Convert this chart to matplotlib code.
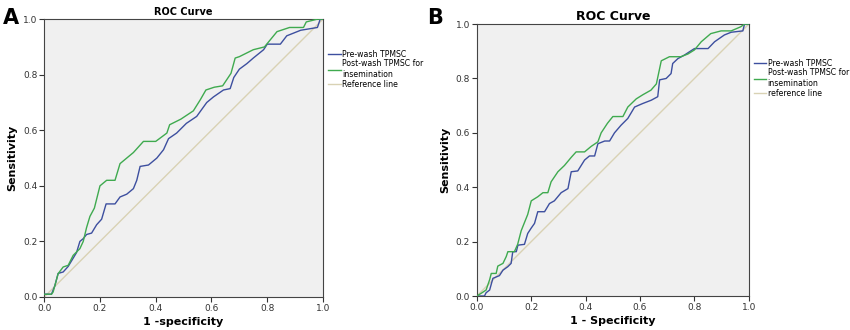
import numpy as np
import matplotlib
matplotlib.use('Agg')
from matplotlib import pyplot as plt

# Panel A curves (1 - specificity, sensitivity)
a_pre_x = [0, 0.026, 0.038, 0.05, 0.068, 0.086, 0.098, 0.116, 0.128, 0.14, 0.152, 0.17, 0.188,
           0.206, 0.222, 0.254, 0.272, 0.296, 0.32, 0.332, 0.344, 0.374, 0.404, 0.428, 0.446,
           0.475, 0.51, 0.547, 0.583, 0.607, 0.643, 0.667, 0.68, 0.70, 0.727, 0.75, 0.787,
           0.80, 0.847, 0.87, 0.92, 0.98, 0.99, 1.0]
a_pre_y = [0.01, 0.01, 0.04, 0.085, 0.09, 0.11, 0.13, 0.16, 0.2, 0.21, 0.225, 0.23, 0.26,
           0.28, 0.335, 0.335, 0.36, 0.37, 0.39, 0.42, 0.47, 0.475, 0.5, 0.53, 0.57,
           0.59, 0.625, 0.65, 0.70, 0.72, 0.745, 0.75, 0.79, 0.82, 0.84, 0.86, 0.89,
           0.91, 0.91, 0.94, 0.96, 0.97, 1.0, 1.0]
a_post_x = [0, 0.026, 0.032, 0.05, 0.068, 0.086, 0.104, 0.128, 0.14, 0.152, 0.164, 0.18, 0.2,
            0.224, 0.254, 0.272, 0.32, 0.356, 0.40, 0.44, 0.45, 0.49, 0.535, 0.56, 0.58,
            0.61, 0.64, 0.67, 0.685, 0.70, 0.75, 0.79, 0.835, 0.88, 0.93, 0.94, 0.98, 1.0]
a_post_y = [0.01, 0.01, 0.018, 0.084, 0.108, 0.114, 0.15, 0.174, 0.2, 0.25, 0.29, 0.32, 0.40,
            0.42, 0.42, 0.48, 0.52, 0.56, 0.56, 0.59, 0.62, 0.64, 0.67, 0.71, 0.745,
            0.755, 0.76, 0.805, 0.86, 0.865, 0.89, 0.90, 0.955, 0.97, 0.97, 0.99, 1.0, 1.0]

# Panel B curves
b_pre_x = [0, 0.028, 0.034, 0.047, 0.059, 0.083, 0.096, 0.114, 0.126, 0.132, 0.145, 0.151,
           0.175, 0.187, 0.2, 0.212, 0.224, 0.249, 0.267, 0.285, 0.31, 0.335, 0.347, 0.371,
           0.396, 0.414, 0.433, 0.445, 0.47, 0.488, 0.506, 0.53, 0.555, 0.58, 0.61, 0.641,
           0.665, 0.672, 0.696, 0.714, 0.72, 0.739, 0.763, 0.80, 0.85, 0.874, 0.91, 0.935,
           0.978, 0.984, 1.0]
b_pre_y = [0, 0, 0.012, 0.022, 0.065, 0.075, 0.095, 0.108, 0.12, 0.163, 0.163, 0.187,
           0.19, 0.23, 0.25, 0.267, 0.31, 0.31, 0.34, 0.35, 0.38, 0.395, 0.457, 0.46,
           0.5, 0.515, 0.515, 0.56, 0.57, 0.57, 0.6, 0.628, 0.653, 0.695, 0.708, 0.72,
           0.733, 0.795, 0.8, 0.818, 0.855, 0.873, 0.886, 0.91, 0.91, 0.935, 0.96, 0.97,
           0.975, 1.0, 1.0]
b_post_x = [0, 0.016, 0.034, 0.047, 0.053, 0.071, 0.077, 0.096, 0.108, 0.114, 0.138, 0.15,
            0.163, 0.175, 0.187, 0.2, 0.224, 0.243, 0.261, 0.273, 0.298, 0.322, 0.347, 0.365,
            0.396, 0.42, 0.445, 0.457, 0.48, 0.5, 0.537, 0.555, 0.586, 0.61, 0.64, 0.66,
            0.678, 0.708, 0.75, 0.776, 0.80, 0.825, 0.86, 0.898, 0.935, 0.97, 0.984, 1.0]
b_post_y = [0, 0.01, 0.022, 0.06, 0.083, 0.083, 0.11, 0.12, 0.145, 0.163, 0.163, 0.19,
            0.24, 0.27, 0.30, 0.35, 0.365, 0.38, 0.38, 0.42, 0.457, 0.48, 0.51, 0.53,
            0.53, 0.55, 0.567, 0.6, 0.635, 0.66, 0.66, 0.695, 0.725, 0.74, 0.757, 0.78,
            0.865, 0.88, 0.88, 0.89, 0.905, 0.935, 0.965, 0.975, 0.975, 0.99, 1.0, 1.0]

ticks = [0.0, 0.2, 0.4, 0.6, 0.8, 1.0]

blue = '#3d4f9f'
green = '#3faa4f'
refc = '#d9d2b4'
bg = '#f0f0f0'

fig = plt.figure(figsize=(8.5, 3.3), dpi=100)
axA = fig.add_axes([0.052, 0.100, 0.328, 0.842])
axB = fig.add_axes([0.561, 0.103, 0.320, 0.824])


def setup(ax, xlabel, title, tsize):
    ax.set_facecolor(bg)
    ax.plot([0, 1], [0, 1], color=refc, lw=1.0, zorder=1)
    ax.set_xlim(0, 1)
    ax.set_ylim(0, 1)
    ax.set_xticks(ticks)
    ax.set_yticks(ticks)
    ax.set_xticklabels(['%.1f' % t for t in ticks], fontsize=6.5, color='#333333')
    ax.set_yticklabels(['%.1f' % t for t in ticks], fontsize=6.5, color='#333333')
    ax.tick_params(direction='out', length=3.5, width=0.8, colors='#333333', pad=1.5)
    for s in ax.spines.values():
        s.set_color('#444444')
        s.set_linewidth(0.8)
    ax.set_xlabel(xlabel, fontsize=8, fontweight='bold', labelpad=3)
    ax.set_ylabel('Sensitivity', fontsize=8, fontweight='bold', labelpad=4)
    ax.set_title(title, fontsize=tsize, fontweight='bold', pad=3)


setup(axA, '1 -specificity', 'ROC Curve', 7)
lA1, = axA.plot(a_pre_x, a_pre_y, color=blue, lw=1.0, zorder=3)
lA2, = axA.plot(a_post_x, a_post_y, color=green, lw=1.0, zorder=4)
rA, = axA.plot([], [], color=refc, lw=1.0)
axA.legend([lA1, lA2, rA], ['Pre-wash TPMSC', 'Post-wash TPMSC for\ninsemination', 'Reference line'],
           loc='upper left', bbox_to_anchor=(1.0, 0.91), frameon=False, fontsize=5.6,
           handlelength=1.6, handletextpad=0.2, labelspacing=0.1, borderaxespad=0.3)

setup(axB, '1 - Specificity', 'ROC Curve', 9)
lB1, = axB.plot(b_pre_x, b_pre_y, color=blue, lw=1.0, zorder=3)
lB2, = axB.plot(b_post_x, b_post_y, color=green, lw=1.0, zorder=4)
rB, = axB.plot([], [], color=refc, lw=1.0)
axB.legend([lB1, lB2, rB], ['Pre-wash TPMSC', 'Post-wash TPMSC for\ninsemination', 'reference line'],
           loc='upper left', bbox_to_anchor=(1.0, 0.89), frameon=False, fontsize=5.6,
           handlelength=1.6, handletextpad=0.2, labelspacing=0.1, borderaxespad=0.2)

fig.text(0.003, 0.975, 'A', fontsize=15, fontweight='bold', va='top', ha='left')
fig.text(0.503, 0.975, 'B', fontsize=15, fontweight='bold', va='top', ha='left')

fig.savefig('out.png', dpi=100)
